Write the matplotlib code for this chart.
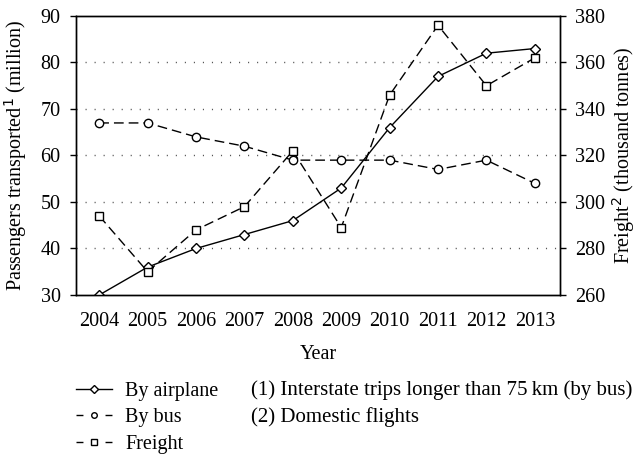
import matplotlib.pyplot as plt
from matplotlib.lines import Line2D

plt.rcParams['font.family'] = ['Liberation Serif', 'DejaVu Serif']

years = [2004, 2005, 2006, 2007, 2008, 2009, 2010, 2011, 2012, 2013]
airplane = [30, 36, 40, 43, 46, 53, 66, 77, 82, 83]
bus = [67, 67, 64, 62, 59, 59, 59, 57, 59, 54]
freight = [294, 270, 288, 298, 322, 289, 346, 376, 350, 362]

left_ticks = [30, 40, 50, 60, 70, 80, 90]
right_ticks = [260, 280, 300, 320, 340, 360, 380]

fs = 14.5
dash = (0, (7, 3.6))

fig = plt.figure(figsize=(6.36, 4.57), dpi=100)
ax = fig.add_axes([0.1195, 0.3545, 0.761, 0.6105])
ax2 = ax.twinx()

mk = dict(markerfacecolor='white', markeredgecolor='black', markeredgewidth=1.0, color='black', lw=1.0)
ax.plot(years, airplane, marker='D', markersize=5.5, ls='-', zorder=3, **mk)
ax.plot(years, bus, marker='o', markersize=6, ls=dash, zorder=3, **mk)
ax2.plot(years, freight, marker='s', markersize=6, ls=dash, zorder=3, **mk)

ax.set_xlim(2003.52, 2013.52)
ax.set_ylim(30, 90)
ax2.set_ylim(260, 380)
ax.set_yticks(left_ticks)
ax2.set_yticks(right_ticks)
ax.set_xticks(years)
ax.set_xticklabels([str(y) for y in years])

for y in left_ticks[1:-1]:
    ax.axhline(y, color='#555555', lw=1.0, ls=(0, (0.8, 5.7)), zorder=1)

for a in (ax, ax2):
    for s in a.spines.values():
        s.set_linewidth(1.0)
    a.tick_params(axis='y', direction='out', length=4, width=1.0, labelsize=fs, pad=7)
ax.tick_params(axis='x', length=0, labelsize=fs, pad=12)

ax.set_xlabel('Year', fontsize=fs, labelpad=10)
ax.set_ylabel('Passengers transported$^1$ (million)', fontsize=fs, labelpad=8)
ax2.set_ylabel('Freight$^2$ (thousand tonnes)', fontsize=fs, labelpad=3)

hdash = (0, (5, 15.9))
handles = [
    Line2D([], [], marker='D', markersize=4, ls='-', **mk),
    Line2D([], [], marker='o', markersize=4, ls=hdash, **mk),
    Line2D([], [], marker='s', markersize=4, ls=hdash, **mk),
]
fig.legend(handles, ['By airplane', 'By bus', 'Freight'], loc='upper left',
           bbox_to_anchor=(76 / 636, 1 - 382 / 457), frameon=False, fontsize=fs,
           handlelength=1.8, handletextpad=0.65, labelspacing=0.36, borderpad=0,
           borderaxespad=0)

fig.text(251 / 636, 1 - 390 / 457, '(1) Interstate trips longer than 75\u2009km (by bus)',
         fontsize=15, va='center', ha='left')
fig.text(251 / 636, 1 - 417 / 457, '(2) Domestic flights', fontsize=15, va='center', ha='left')

fig.savefig('out.png', dpi=100)
